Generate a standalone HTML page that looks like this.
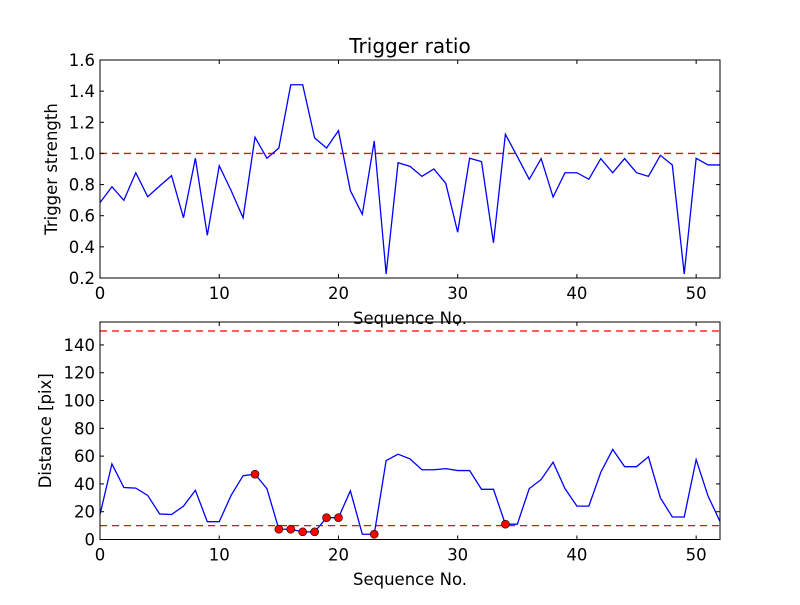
<!DOCTYPE html>
<html><head><meta charset="utf-8"><style>
body{margin:0;background:#fff}
svg{font-family:"DejaVu Sans","Liberation Sans",sans-serif}
</style></head><body>
<svg id="fig" width="800" height="600"></svg>
<script>
const seqTop = Array.from({length:53},(_,i)=>i);
const ratioValues = [0.684,0.786,0.699,0.876,0.722,0.791,0.857,0.587,0.969,0.474,0.921,0.761,0.587,1.104,0.969,1.035,1.441,1.441,1.10,1.035,1.146,0.761,0.609,1.08,0.226,0.94,0.917,0.853,0.90,0.808,0.494,0.969,0.947,0.426,1.123,0.98,0.834,0.967,0.72,0.876,0.876,0.834,0.967,0.876,0.967,0.876,0.853,0.988,0.926,0.226,0.969,0.926,0.926];
const distValues = [18,54.4,37.4,37,31.7,18.4,18,24,35.4,12.8,12.8,31.8,45.9,47,36.6,7.4,7.4,5.5,5.5,15.7,15.7,35,3.8,3.8,56.8,61.4,58,50.2,50.2,51,49.6,49.6,36.1,36.1,11,11,36.6,43.2,55.6,36.6,24,24,48.3,64.8,52.4,52.4,59.5,30,16.2,16.2,57.5,31.2,13];
const markedIdx = [13,15,16,17,18,19,20,23,34];
const ratioThreshold = [1.0];
const distThresholds = [10,150];
const xTicks = [0,10,20,30,40,50];
const ratioTicks = [0.2,0.4,0.6,0.8,1.0,1.2,1.4,1.6];
const distTicks = [0,20,40,60,80,100,120,140];

const NS="http://www.w3.org/2000/svg";
const svg=document.getElementById('fig');
function mk(tag,attrs,parent,text){const e=document.createElementNS(NS,tag);for(const k in attrs)e.setAttribute(k,attrs[k]);if(text!==undefined)e.textContent=text;(parent||svg).appendChild(e);return e;}
const FS=16.5;
function panel(name,top,bottom,ymin,ymax,vals,yticks,ylabel,thresholds,markers,xlabelY,ylabX,fmt){
  const L=100,R=720;
  const sx=v=>L+(v-0)/(52-0)*(R-L);
  const sy=v=>bottom-(v-ymin)/(ymax-ymin)*(bottom-top);
  const g=mk('g',{});
  
  
  thresholds.forEach(t=>{
    const l=mk('line',{x1:L,x2:R,y1:sy(t),y2:sy(t),stroke:'#f00','stroke-width':1.3,'stroke-dasharray':'7,5'},g);
    
    
  });
  const pts=vals.map((v,i)=>sx(seqTop[i]).toFixed(2)+','+sy(v).toFixed(2)).join(' ');
  const pl=mk('polyline',{points:pts,fill:'none',stroke:'#00f','stroke-width':1.3},g);
  
  
  markers.forEach(i=>{
    const c=mk('circle',{cx:sx(seqTop[i]),cy:sy(vals[i]),r:4,fill:'#f00',stroke:'#000','stroke-width':0.6},g);
    
    
  });
  const fr=mk('rect',{x:L,y:top,width:R-L,height:bottom-top,fill:'none',stroke:'#000','stroke-width':1},g);
  
  
  xTicks.forEach(t=>{
    const x=sx(t);
    mk('line',{x1:x,x2:x,y1:bottom,y2:bottom-4,stroke:'#000'},g);
    mk('line',{x1:x,x2:x,y1:top,y2:top+4,stroke:'#000'},g);
    const tx=mk('text',{x:x,y:bottom+21,'text-anchor':'middle','font-size':FS},g,String(t));
    
    
  });
  yticks.forEach(t=>{
    const y=sy(t);
    mk('line',{x1:L,x2:L+4,y1:y,y2:y,stroke:'#000'},g);
    mk('line',{x1:R,x2:R-4,y1:y,y2:y,stroke:'#000'},g);
    const tx=mk('text',{x:L-5,y:y+6,'text-anchor':'end','font-size':FS},g,fmt(t));
    
    
  });
  const xl=mk('text',{x:410,y:xlabelY,'text-anchor':'middle','font-size':FS},g,'Sequence No.');
  
  
  const cy=(top+bottom)/2;
  const yl=mk('text',{x:0,y:0,'text-anchor':'middle','font-size':FS,transform:`translate(${ylabX},${cy}) rotate(-90)`},g,ylabel);
  
  
}
panel('top-panel',60,278,0.2,1.6,ratioValues,ratioTicks,'Trigger strength',ratioThreshold,[],324,57,t=>t.toFixed(1));
panel('bottom-panel',322,539.5,0,156.5,distValues,distTicks,'Distance [pix]',distThresholds,markedIdx,585,51,t=>String(t));
const title=mk('text',{x:410,y:53,'text-anchor':'middle','font-size':20},svg,'Trigger ratio');


</script>
</body></html>
